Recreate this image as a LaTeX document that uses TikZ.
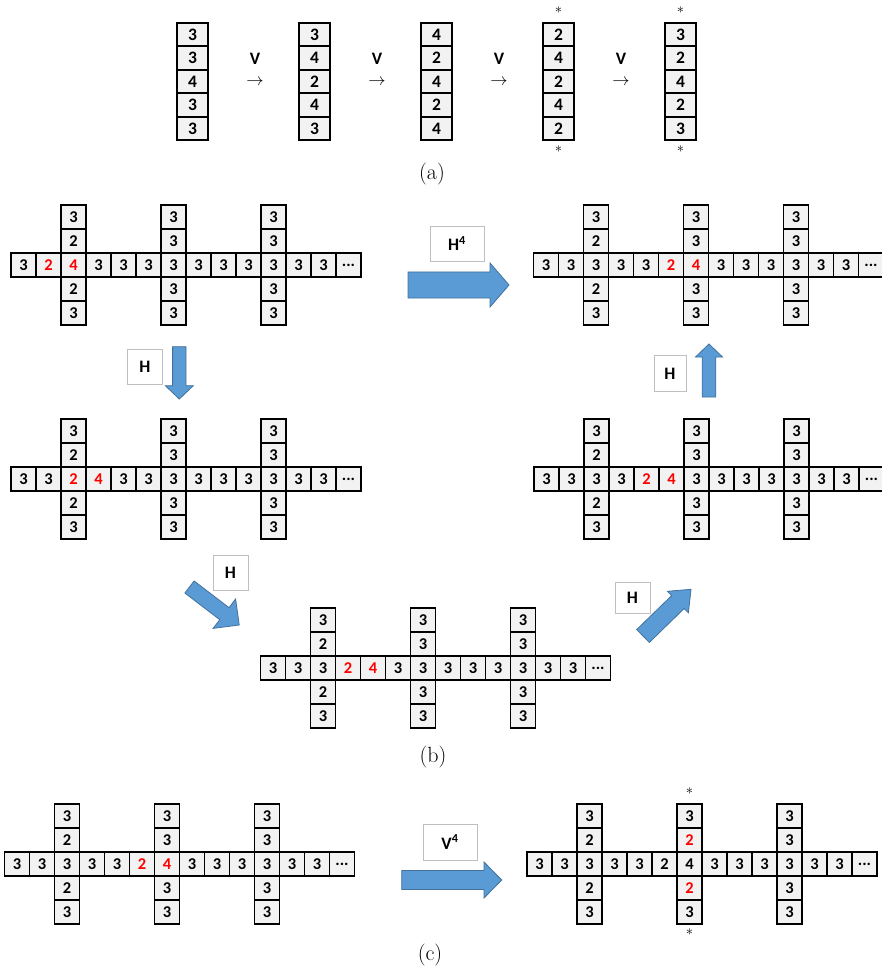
\documentclass[tikz,border=0pt]{standalone}
\usepackage{fontspec}
\usepackage{xcolor}
\usepackage{tikz}
\usetikzlibrary{positioning}
\newfontfamily\calfont{Carlito}

\definecolor{cellgray}{HTML}{F2F2F2}
\definecolor{arrowblue}{HTML}{5B9BD5}
\definecolor{arrowedge}{HTML}{41719C}
\definecolor{boxgray}{HTML}{BFBFBF}

\newcommand{\rd}[1]{\textcolor{red}{#1}}

% one vertical arm of a cross: name, x centre, y of row centre, top/upper/lower/bottom
\newcommand{\crossarm}[4]{%
  \foreach \v [count=\j] in {#4} {
    \pgfmathtruncatemacro\dy{\j<3 ? \j-3 : \j-2}
    \node[cell] (#1\j) at (#2,{#3+24*\dy}) {\v};
  }}

% name, left x, top y of the row, 13 row values, arm a, arm b
\newcommand{\crossgrid}[6]{%
  \foreach \v [count=\i from 0] in {#4}
    \node[cell] (#1-r\i) at ({#2+25*\i+12.5},{#3+12}) {\v};
  \node[cell] (#1-r13) at ({#2+337.5},{#3+12}) {...};
  \crossarm{#1-a}{#2+62.5}{#3+12}{#5}
  \crossarm{#1-b}{#2+162.5}{#3+12}{#6}
  \crossarm{#1-c}{#2+262.5}{#3+12}{3,3,3,3}}

% tail x, tail y, angle, length, half shaft, half head, head length
\newcommand{\blockarrow}[7]{%
  \begin{scope}[shift={(#1,#2)}, rotate=#3]
    \draw[barrow] (0,-#5) -- ({#4-#7},-#5) -- ({#4-#7},-#6) -- (#4,0)
      -- ({#4-#7},#6) -- ({#4-#7},#5) -- (0,#5) -- cycle;
  \end{scope}}

\begin{document}
\begin{tikzpicture}[
  x=1pt, y=-1pt,
  cell/.style={draw, line width=1.8pt, fill=cellgray, minimum width=25pt, minimum height=24pt, inner sep=0pt, font=\calfont\bfseries\fontsize{16.5}{16.5}\selectfont},
  acell/.style={cell, minimum width=31pt, minimum height=23.5pt, font=\calfont\bfseries\fontsize{17.5}{17.5}\selectfont},
  opbox/.style={draw=boxgray, line width=0.9pt, fill=white, minimum width=35pt, minimum height=35pt, inner sep=0pt, font=\calfont\bfseries\fontsize{17.5}{17.5}\selectfont},
  barrow/.style={fill=arrowblue, draw=arrowedge, line width=0.8pt},
  oplabel/.style={font=\calfont\bfseries\fontsize{17.5}{17.5}\selectfont},
  caption/.style={font=\fontsize{22}{24}\selectfont},
  star/.style={font=\fontsize{14}{14}\selectfont, inner sep=0pt},
]
  \useasboundingbox (0,0) rectangle (882,973);

  % (a)
  \foreach \v [count=\j] in {3,3,4,3,3}
    \node[acell] (c1-\j) at (192.5,{10.95+23.5*\j}) {\v};
  \foreach \v [count=\j] in {3,4,2,4,3}
    \node[acell] (c2-\j) at (314.5,{10.95+23.5*\j}) {\v};
  \foreach \v [count=\j] in {4,2,4,2,4}
    \node[acell] (c3-\j) at (436.5,{10.95+23.5*\j}) {\v};
  \foreach \v [count=\j] in {2,4,2,4,2}
    \node[acell] (c4-\j) at (558.5,{10.95+23.5*\j}) {\v};
  \foreach \v [count=\j] in {3,2,4,2,3}
    \node[acell] (c5-\j) at (680.5,{10.95+23.5*\j}) {\v};
  \foreach \x [count=\k] in {255,377,499,621} {
    \node[oplabel] (v\k) at (\x,59) {V};
    \node[font=\fontsize{17}{17}\selectfont] (to\k) at (\x,82) {$\rightarrow$};
  }
  \node[star] (s4t) at (558.5,10.5) {$\ast$};
  \node[star] (s4b) at (558.5,149) {$\ast$};
  \node[star] (s5t) at (680.5,10.5) {$\ast$};
  \node[star] (s5b) at (680.5,149) {$\ast$};
  \node[caption] (capa) at (432,174) {(a)};

  % (b)
  \crossgrid{ga}{11}{253}{3,\rd2,\rd4,3,3,3,3,3,3,3,3,3,3}{3,2,2,3}{3,3,3,3}
  \crossgrid{gb}{533.5}{253}{3,3,3,3,3,\rd2,\rd4,3,3,3,3,3,3}{3,2,2,3}{3,3,3,3}
  \crossgrid{gc}{11}{467}{3,3,\rd2,\rd4,3,3,3,3,3,3,3,3,3}{3,2,2,3}{3,3,3,3}
  \crossgrid{gd}{534}{467}{3,3,3,3,\rd2,\rd4,3,3,3,3,3,3,3}{3,2,2,3}{3,3,3,3}
  \crossgrid{ge}{260.5}{656}{3,3,3,\rd2,\rd4,3,3,3,3,3,3,3,3}{3,2,2,3}{3,3,3,3}

  \node[opbox, minimum width=54pt] (h4) at (457,243.5) {H\textsuperscript{4}};
  \blockarrow{408}{285}{0}{101}{13}{22}{19}
  \node[opbox] (hdown) at (145,366.5) {H};
  \blockarrow{179.3}{346.7}{-90}{52.3}{6.7}{14}{13.3}
  \node[opbox, minimum width=32pt, minimum height=36pt] (hup) at (670,373.7) {H};
  \blockarrow{709}{397}{90}{53}{6.8}{13.5}{13}
  \node[opbox] (hleft) at (230.5,573) {H};
  \blockarrow{189.5}{587}{-37.4}{62.6}{7.6}{18.5}{18.7}
  \node[opbox, minimum height=31pt] (hright) at (632.5,598) {H};
  \blockarrow{643}{636}{44.2}{67}{9}{15}{18.3}
  \node[caption] (capb) at (433,757) {(b)};

  % (c)
  \crossgrid{gf}{4.5}{852}{3,3,3,3,3,\rd2,\rd4,3,3,3,3,3,3}{3,2,2,3}{3,3,3,3}
  \crossgrid{gg}{527}{852}{3,3,3,3,3,2,4,3,3,3,3,3,3}{3,2,2,3}{3,\rd2,\rd2,3}
  \node[star] (sgt) at (689.5,791.5) {$\ast$};
  \node[star] (sgb) at (689.5,932.5) {$\ast$};
  \node[opbox, minimum width=54pt, minimum height=36pt] (v4) at (450,842) {V\textsuperscript{4}};
  \blockarrow{401.7}{880}{0}{100}{9.5}{18}{17.7}
  \node[caption] (capc) at (430,955) {(c)};
\end{tikzpicture}
\end{document}
